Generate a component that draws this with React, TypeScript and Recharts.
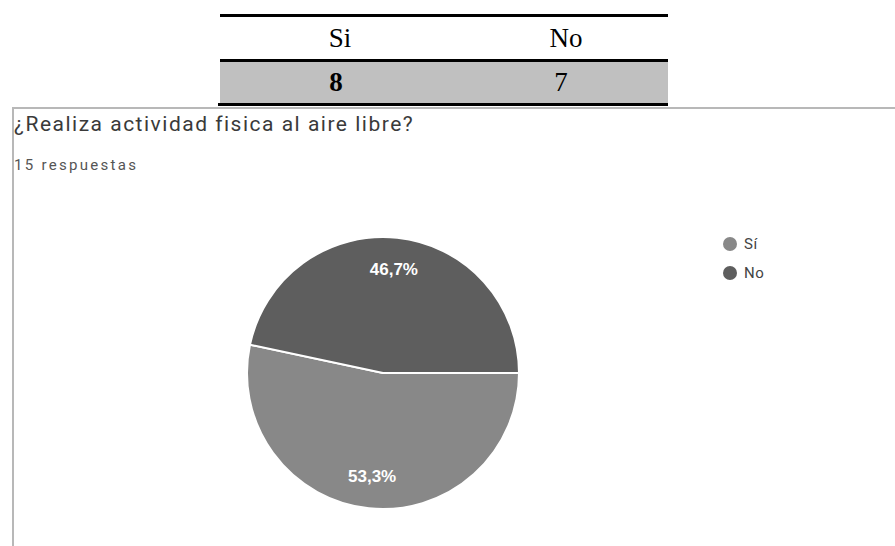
import React from "react";
import { PieChart, Pie, Cell } from "recharts";

const categories = ["Sí", "No"];
const counts = [8, 7];
const tableHeaders = ["Si", "No"];
const tableValues = ["8", "7"];
const colors = ["#888888", "#5e5e5e"];
const title = "¿Realiza actividad fisica al aire libre?";
const subtitle = "15 respuestas";

const data = categories.map((name, i) => ({ name, value: counts[i] }));

const RAD = Math.PI / 180;
const renderLabel = (props: any) => {
  const { cx, cy, midAngle, outerRadius, percent } = props;
  const r = outerRadius * 0.765;
  const x = cx + r * Math.cos(-midAngle * RAD);
  const y = cy + r * Math.sin(-midAngle * RAD);
  const txt = (percent * 100).toFixed(1).replace(".", ",") + "%";
  return (
    <text x={x} y={y} fill="#ffffff" textAnchor="middle" dominantBaseline="central"
      fontFamily="Liberation Sans, Arial, sans-serif" fontSize={17} fontWeight="bold">
      {txt}
    </text>
  );
};

export default function App() {
  return (
    <div style={{ position: "absolute", left: 0, top: 0, width: 895, height: 546, background: "#fff", overflow: "hidden" }}>
      {/* table */}
      <div style={{ position: "absolute", left: 220, top: 14, width: 448, height: 3, background: "#000" }} />
      <div style={{ position: "absolute", left: 220, top: 59, width: 448, height: 3, background: "#000" }} />
      <div style={{ position: "absolute", left: 220, top: 62, width: 448, height: 41, background: "#c0c0c0" }} />
      <div style={{ position: "absolute", left: 218, top: 103, width: 450, height: 3, background: "#000" }} />
      {tableHeaders.map((h, i) => (
        <div key={h} style={{ position: "absolute", left: i === 0 ? 240 : 466, top: 17, width: 200, height: 42, display: "flex", alignItems: "center", justifyContent: "center", fontFamily: "Liberation Serif, Times New Roman, serif", fontSize: 27, color: "#000" }}>{h}</div>
      ))}
      {tableValues.map((v, i) => (
        <div key={i} style={{ position: "absolute", left: i === 0 ? 236 : 461, top: 62, width: 200, height: 41, display: "flex", alignItems: "center", justifyContent: "center", fontFamily: "Liberation Serif, Times New Roman, serif", fontSize: 27, fontWeight: i === 0 ? "bold" : "normal", color: "#000" }}>{v}</div>
      ))}
      {/* card */}
      <div style={{ position: "absolute", left: 12, top: 107, width: 900, height: 460, border: "2px solid #b8b8b8", boxSizing: "border-box" }} />
      <div style={{ position: "absolute", left: 14, top: 112, fontFamily: "Roboto, Arial, sans-serif", fontSize: 21, letterSpacing: 1.5, color: "#3a3a3a", whiteSpace: "nowrap" }}>{title}</div>
      <div style={{ position: "absolute", left: 14, top: 156, fontFamily: "Roboto, Arial, sans-serif", fontSize: 15, letterSpacing: 2.3, color: "#555", whiteSpace: "nowrap" }}>{subtitle}</div>
      <div style={{ position: "absolute", left: 0, top: 0 }}>
        <PieChart width={895} height={546} margin={{ top: 0, right: 0, bottom: 0, left: 0 }}>
          <Pie
            data={data}
            dataKey="value"
            nameKey="name"
            cx={383}
            cy={373}
            outerRadius={136}
            startAngle={168}
            endAngle={528}
            stroke="#ffffff"
            strokeWidth={2}
            label={renderLabel}
            labelLine={false}
            isAnimationActive={false}
          >
            {data.map((d, i) => (
              <Cell key={d.name} fill={colors[i]} />
            ))}
          </Pie>
        </PieChart>
      </div>
      {/* legend */}
      <div style={{ position: "absolute", left: 723, top: 229, fontFamily: "Roboto, Arial, sans-serif", fontSize: 15, color: "#444" }}>
        {categories.map((c, i) => (
          <div key={c} style={{ display: "flex", alignItems: "center", height: 29 }}>
            <span style={{ display: "inline-block", width: 14, height: 14, borderRadius: "50%", background: colors[i], marginRight: 7 }} />
            <span style={{ letterSpacing: 0.5 }}>{c}</span>
          </div>
        ))}
      </div>
    </div>
  );
}
